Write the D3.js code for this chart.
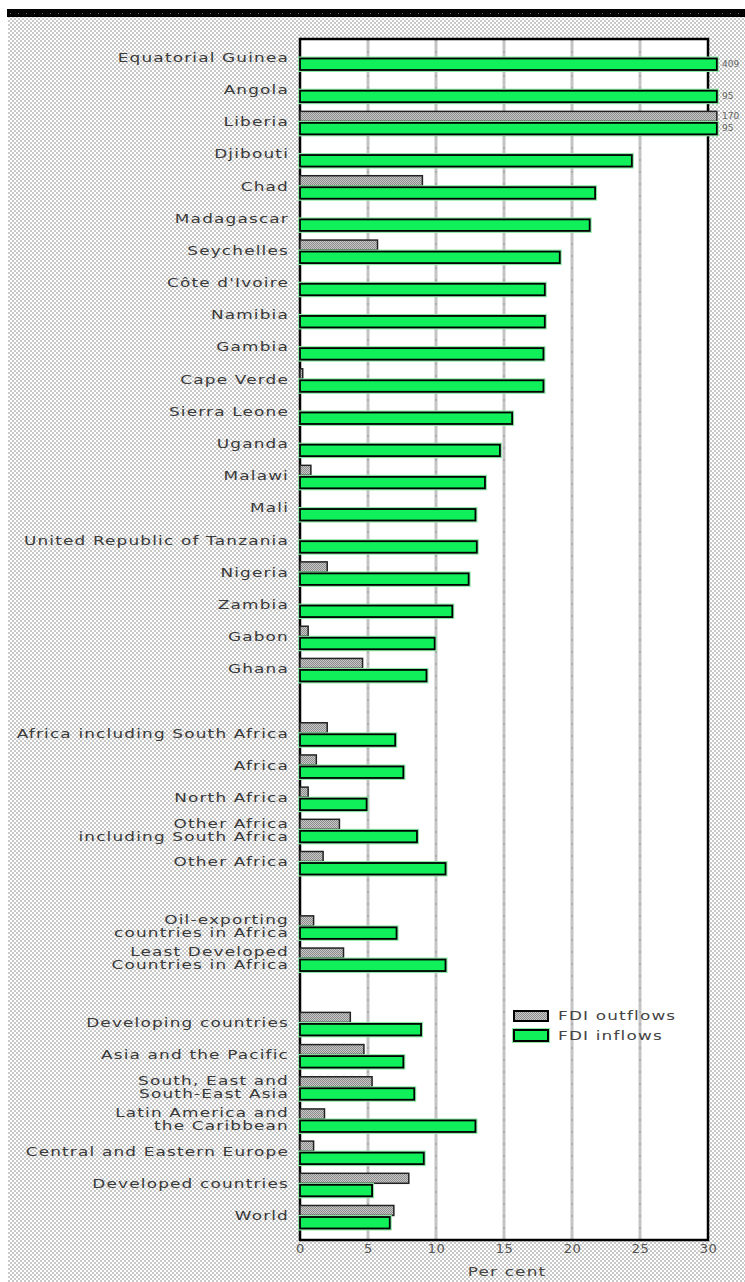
<!DOCTYPE html>
<html>
<head>
<meta charset="utf-8">
<script src="https://cdn.jsdelivr.net/npm/d3@7"></script>
<style>
  html, body { margin: 0; padding: 0; background: #fff; }
  svg { display: block; }
</style>
</head>
<body>
<svg id="chart" width="745" height="1282"></svg>
<script>
// ---- data ----
const categories = [
  "Equatorial Guinea", "Angola", "Liberia", "Djibouti", "Chad", "Madagascar",
  "Seychelles", "Côte d'Ivoire", "Namibia", "Gambia", "Cape Verde", "Sierra Leone",
  "Uganda", "Malawi", "Mali", "United Republic of Tanzania", "Nigeria", "Zambia",
  "Gabon", "Ghana", "gap1",
  "Africa including South Africa", "Africa", "North Africa",
  "Other Africa\nincluding South Africa", "Other Africa", "gap2",
  "Oil-exporting\ncountries in Africa", "Least Developed\nCountries in Africa", "gap3",
  "Developing countries", "Asia and the Pacific", "South, East and\nSouth-East Asia",
  "Latin America and\nthe Caribbean", "Central and Eastern Europe",
  "Developed countries", "World"
];
const outflows = [
  null, null, 170, null, 9.0, null,
  5.7, null, null, null, 0.2, null,
  null, 0.8, null, null, 2.0, null,
  0.6, 4.6, null,
  2.0, 1.2, 0.6, 2.9, 1.7, null,
  1.0, 3.2, null,
  3.7, 4.7, 5.3, 1.8, 1.0, 8.0, 6.9
];
const inflows = [
  409, 95, 95, 24.4, 21.7, 21.3,
  19.1, 18.0, 18.0, 17.9, 17.9, 15.6,
  14.7, 13.6, 12.9, 13.0, 12.4, 11.2,
  9.9, 9.3, null,
  7.0, 7.6, 4.9, 8.6, 10.7, null,
  7.1, 10.7, null,
  8.9, 7.6, 8.4, 12.9, 9.1, 5.3, 6.6
];
const xTicks = [0, 5, 10, 15, 20, 25, 30];
const seriesNames = ["FDI outflows", "FDI inflows"];
const axisTitle = "Per cent";

// ---- layout ----
const svg = d3.select("#chart");
const W = 745, H = 1282;
const plotL = 300, plotR = 708, plotT = 39, plotB = 1240;
const pitch = 32.18;
const xMax = 30;
const stretch = 1.3;

const defs = svg.append("defs");
const bg = defs.append("pattern").attr("id", "checker")
  .attr("width", 4).attr("height", 4).attr("patternUnits", "userSpaceOnUse");
bg.append("rect").attr("width", 4).attr("height", 4).attr("fill", "#ffffff");
bg.append("rect").attr("width", 2).attr("height", 2).attr("fill", "#c9c9c9");
bg.append("rect").attr("x", 2).attr("y", 2).attr("width", 2).attr("height", 2).attr("fill", "#c9c9c9");

const gp = defs.append("pattern").attr("id", "grayfill")
  .attr("width", 2).attr("height", 2).attr("patternUnits", "userSpaceOnUse");
gp.append("rect").attr("width", 2).attr("height", 2).attr("fill", "#c8c8c8");
gp.append("rect").attr("width", 1).attr("height", 1).attr("fill", "#8c8c8c");
gp.append("rect").attr("x", 1).attr("y", 1).attr("width", 1).attr("height", 1).attr("fill", "#8c8c8c");

// background
svg.append("rect").attr("x", 8).attr("y", 17).attr("width", W - 8).attr("height", H - 17)
  .attr("fill", "url(#checker)");
// top band
svg.append("rect").attr("x", 7).attr("y", 9).attr("width", W - 7).attr("height", 8).attr("fill", "#000");
svg.append("line").attr("x1", 10).attr("x2", W).attr("y1", 13.5).attr("y2", 13.5)
  .attr("stroke", "#666").attr("stroke-width", 1).attr("stroke-dasharray", "1,7");

// scales
const x = d3.scaleLinear().domain([0, xMax]).range([plotL, plotR]);
const y = d3.scaleBand().domain(categories).range([plotT, plotT + pitch * categories.length]).padding(0);

// plot area
svg.append("rect").attr("x", plotL).attr("y", plotT).attr("width", plotR - plotL).attr("height", plotB - plotT)
  .attr("fill", "#fff");

// grid
const inner = xTicks.filter(t => t > 0 && t < xMax);
svg.append("g").selectAll("line").data(inner).join("line")
  .attr("x1", d => x(d)).attr("x2", d => x(d)).attr("y1", plotT).attr("y2", plotB)
  .attr("stroke", "#c4c4c4").attr("stroke-width", 3);
svg.append("g").selectAll("line").data(inner).join("line")
  .attr("x1", d => x(d)).attr("x2", d => x(d)).attr("y1", plotT).attr("y2", plotB)
  .attr("stroke", "#999").attr("stroke-width", 1).attr("stroke-dasharray", "2,10");

// frame
svg.append("rect").attr("x", plotL).attr("y", plotT).attr("width", plotR - plotL).attr("height", plotB - plotT)
  .attr("fill", "none").attr("stroke", "#000").attr("stroke-width", 2.5);

const drawMax = 30.65;
const idx = categories.map((c, i) => i);

// outflow bars
const outData = idx.filter(i => outflows[i] != null);
svg.append("g").selectAll("rect").data(outData).join("rect")
  .attr("x", x(0))
  .attr("y", i => y(categories[i]) + 8)
  .attr("width", i => x(Math.min(outflows[i], drawMax)) - x(0))
  .attr("height", 10)
  .attr("fill", "url(#grayfill)")
  .attr("stroke", "#222").attr("stroke-width", 1.5);

// inflow bars
const inData = idx.filter(i => inflows[i] != null);
svg.append("g").selectAll("rect").data(inData).join("rect")
  .attr("x", x(0) - 1)
  .attr("y", i => y(categories[i]) + 18.5)
  .attr("width", i => x(Math.min(inflows[i], drawMax)) - x(0) + 2)
  .attr("height", 13.5)
  .attr("fill", "none")
  .attr("stroke", "#8ae8a4").attr("stroke-width", 2);
svg.append("g").selectAll("rect").data(inData).join("rect")
  .attr("x", x(0))
  .attr("y", i => y(categories[i]) + 19.5)
  .attr("width", i => x(Math.min(inflows[i], drawMax)) - x(0))
  .attr("height", 11.5)
  .attr("fill", "#10f05a")
  .attr("stroke", "#000").attr("stroke-width", 1.8);

// overflow labels
const ovOut = outData.filter(i => outflows[i] > xMax);
const ovIn = inData.filter(i => inflows[i] > xMax);
svg.append("g").selectAll("text").data(ovOut).join("text")
  .attr("x", x(xMax) + 14).attr("y", i => y(categories[i]) + 13)
  .attr("dominant-baseline", "central")
  .attr("font-family", "DejaVu Sans").attr("font-size", 9).attr("fill", "#666")
  .text(i => outflows[i]);
svg.append("g").selectAll("text").data(ovIn).join("text")
  .attr("x", x(xMax) + 14).attr("y", i => y(categories[i]) + 25)
  .attr("dominant-baseline", "central")
  .attr("font-family", "DejaVu Sans").attr("font-size", 9).attr("fill", "#666")
  .text(i => inflows[i]);

// category labels (horizontally stretched like the original)
const labG = svg.append("g")
  .attr("transform", `translate(289,0) scale(${stretch},1)`)
  .attr("font-family", "DejaVu Sans").attr("font-size", 13).attr("fill", "#3a3a3a")
  .attr("letter-spacing", "0.9px");
categories.forEach((c, i) => {
  if (c.startsWith("gap")) return;
  const lines = c.split("\n");
  const cy = y(c) + 18.5;
  const t = labG.append("text").attr("text-anchor", "end");
  lines.forEach((ln, k) => {
    t.append("tspan").attr("x", 0)
      .attr("y", cy + (k - (lines.length - 1) / 2) * 13)
      .attr("dominant-baseline", "central")
      .text(ln);
  });
});

// x axis
const xAxis = d3.axisBottom(x).tickValues(xTicks).tickSize(0).tickPadding(4);
const ax = svg.append("g").attr("transform", `translate(0,${plotB})`).call(xAxis);
ax.select(".domain").remove();
ax.selectAll("text").attr("font-family", "DejaVu Sans").attr("font-size", 13).attr("fill", "#555")
  .attr("letter-spacing", "0.5px");

svg.append("g").attr("transform", `translate(${(plotL + plotR) / 2 + 3},1276) scale(${stretch},1)`)
  .append("text").attr("x", 0).attr("y", 0)
  .attr("text-anchor", "middle").attr("font-family", "DejaVu Sans").attr("font-size", 13)
  .attr("fill", "#444").attr("letter-spacing", "0.9px").text(axisTitle);

// legend
const lg = svg.append("g").attr("transform", "translate(514,1010)");
lg.append("rect").attr("x", 0).attr("y", 1).attr("width", 34).attr("height", 10)
  .attr("fill", "url(#grayfill)").attr("stroke", "#000").attr("stroke-width", 2);
lg.append("rect").attr("x", -1).attr("y", 19).attr("width", 36).attr("height", 13)
  .attr("fill", "none").attr("stroke", "#8ae8a4").attr("stroke-width", 2);
lg.append("rect").attr("x", 0).attr("y", 20).attr("width", 34).attr("height", 11)
  .attr("fill", "#10f05a").attr("stroke", "#000").attr("stroke-width", 2);
[0, 1].forEach(k => {
  lg.append("g").attr("transform", `translate(44,${6 + k * 20}) scale(${stretch},1)`)
    .append("text").attr("x", 0).attr("y", 0).attr("dominant-baseline", "central")
    .attr("font-family", "DejaVu Sans").attr("font-size", 13).attr("fill", "#444")
    .attr("letter-spacing", "0.9px").text(seriesNames[k]);
});
</script>
</body>
</html>
